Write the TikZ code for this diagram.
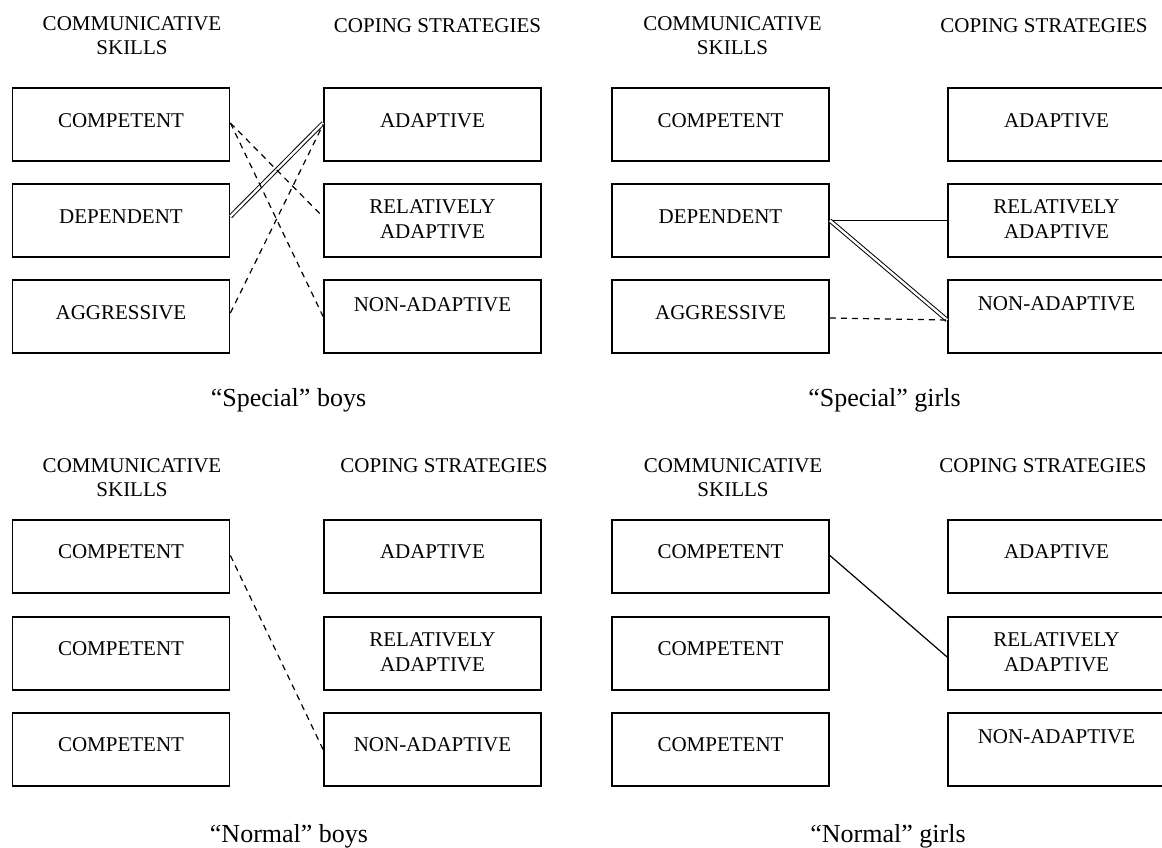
\documentclass[tikz,border=0pt]{standalone}
\usepackage{fontspec}
\setmainfont{Liberation Serif}
\usetikzlibrary{calc}
\begin{document}
\begin{tikzpicture}[x=0.5pt,y=-0.5pt,
  box/.style={draw, line width=0.9pt, minimum width=108.5pt, minimum height=36.5pt, inner sep=0pt},
  lbl/.style={font=\fontsize{10.5}{12.5}\selectfont, inner sep=0pt, anchor=base},
  lbltwo/.style={font=\fontsize{10.5}{12.5}\selectfont, inner sep=0pt, align=center},
  hdr/.style={font=\fontsize{10.5}{12}\selectfont, inner sep=0pt, align=center},
  hdrone/.style={font=\fontsize{10.5}{12}\selectfont, inner sep=0pt, anchor=base},
  capt/.style={font=\fontsize{13}{15}\selectfont, inner sep=0pt, anchor=base},
  solidlink/.style={line width=0.6pt},
  dashlink/.style={line width=0.6pt, dash pattern=on 3pt off 2.5pt},
  dbllink/.style={line width=0.5pt, double, double distance=1.2pt}]
\useasboundingbox (0,0) rectangle (1162,847);
\fill[white] (0,0) rectangle (1162,847);

% ---------- Top-left: "Special" boys ----------
\node[hdr] (tlh1) at (132,36) {COMMUNICATIVE\\SKILLS};
\node[hdrone] (tlh2) at (437.5,32) {COPING STRATEGIES};
\node[box] (tlc1) at (121,124.5) {};
\node[box] (tlc2) at (121,220.5) {};
\node[box] (tlc3) at (121,316.5) {};
\node[lbl] (tlc1t) at (121,127) {COMPETENT};
\node[lbl] (tlc2t) at (121,223) {DEPENDENT};
\node[lbl] (tlc3t) at (121,319) {AGGRESSIVE};
\node[box] (tlr1) at (432.5,124.5) {};
\node[box] (tlr2) at (432.5,220.5) {};
\node[box] (tlr3) at (432.5,316.5) {};
\node[lbl] (tlr1t) at (432.5,127) {ADAPTIVE};
\node[lbltwo] (tlr2t) at (432.5,219.5) {RELATIVELY\\ADAPTIVE};
\node[lbl] (tlr3t) at (432.5,311) {NON-ADAPTIVE};
\node[capt] (tlcap) at (288.5,406) {``Special'' boys};
\draw[dbllink] ([yshift=2pt]tlc2.east) -- ([yshift=0.75pt]tlr1.west);
\draw[dashlink] ([yshift=0.75pt]tlc1.east) -- ([yshift=1.75pt]tlr2.west);
\draw[dashlink] ([yshift=0.75pt]tlc1.east) -- (tlr3.west);
\draw[dashlink] ([yshift=1.75pt]tlc3.east) -- (tlr1.west);

% ---------- Top-right: "Special" girls ----------
\node[hdr] (trh1) at (732.5,36) {COMMUNICATIVE\\SKILLS};
\node[hdrone] (trh2) at (1044,32) {COPING STRATEGIES};
\node[box] (trc1) at (720.5,124.5) {};
\node[box] (trc2) at (720.5,220.5) {};
\node[box] (trc3) at (720.5,316.5) {};
\node[lbl] (trc1t) at (720.5,127) {COMPETENT};
\node[lbl] (trc2t) at (720.5,223) {DEPENDENT};
\node[lbl] (trc3t) at (720.5,319) {AGGRESSIVE};
\node[box] (trr1) at (1056.5,124.5) {};
\node[box] (trr2) at (1056.5,220.5) {};
\node[box] (trr3) at (1056.5,316.5) {};
\node[lbl] (trr1t) at (1056.5,127) {ADAPTIVE};
\node[lbltwo] (trr2t) at (1056.5,219.5) {RELATIVELY\\ADAPTIVE};
\node[lbl] (trr3t) at (1056.5,310) {NON-ADAPTIVE};
\node[capt] (trcap) at (884.5,406) {``Special'' girls};
\draw[solidlink] (trc2.east) -- (trr2.west);
\draw[dbllink] (trc2.east) -- ([yshift=-1.75pt]trr3.west);
\draw[dashlink] ([yshift=-0.75pt]trc3.east) -- ([yshift=-1.75pt]trr3.west);

% ---------- Bottom-left: "Normal" boys ----------
\node[hdr] (blh1) at (132,477.5) {COMMUNICATIVE\\SKILLS};
\node[hdrone] (blh2) at (444,472) {COPING STRATEGIES};
\node[box] (blc1) at (121,556.5) {};
\node[box] (blc2) at (121,653.5) {};
\node[box] (blc3) at (121,749.5) {};
\node[lbl] (blc1t) at (121,558.5) {COMPETENT};
\node[lbl] (blc2t) at (121,655.5) {COMPETENT};
\node[lbl] (blc3t) at (121,751.5) {COMPETENT};
\node[box] (blr1) at (432.5,556.5) {};
\node[box] (blr2) at (432.5,653.5) {};
\node[box] (blr3) at (432.5,749.5) {};
\node[lbl] (blr1t) at (432.5,558.5) {ADAPTIVE};
\node[lbltwo] (blr2t) at (432.5,652.5) {RELATIVELY\\ADAPTIVE};
\node[lbl] (blr3t) at (432.5,751.5) {NON-ADAPTIVE};
\node[capt] (blcap) at (289,842) {``Normal'' boys};
\draw[dashlink] ([yshift=0.5pt]blc1.east) -- (blr3.west);

% ---------- Bottom-right: "Normal" girls ----------
\node[hdr] (brh1) at (733,477.5) {COMMUNICATIVE\\SKILLS};
\node[hdrone] (brh2) at (1043,472) {COPING STRATEGIES};
\node[box] (brc1) at (720.5,556.5) {};
\node[box] (brc2) at (720.5,653.5) {};
\node[box] (brc3) at (720.5,749.5) {};
\node[lbl] (brc1t) at (720.5,558.5) {COMPETENT};
\node[lbl] (brc2t) at (720.5,655.5) {COMPETENT};
\node[lbl] (brc3t) at (720.5,751.5) {COMPETENT};
\node[box] (brr1) at (1056.5,556.5) {};
\node[box] (brr2) at (1056.5,653.5) {};
\node[box] (brr3) at (1056.5,749.5) {};
\node[lbl] (brr1t) at (1056.5,558.5) {ADAPTIVE};
\node[lbltwo] (brr2t) at (1056.5,652.5) {RELATIVELY\\ADAPTIVE};
\node[lbl] (brr3t) at (1056.5,743) {NON-ADAPTIVE};
\node[capt] (brcap) at (888,842) {``Normal'' girls};
\draw[solidlink] ([yshift=0.5pt]brc1.east) -- ([yshift=-1.75pt]brr2.west);
\end{tikzpicture}
\end{document}
